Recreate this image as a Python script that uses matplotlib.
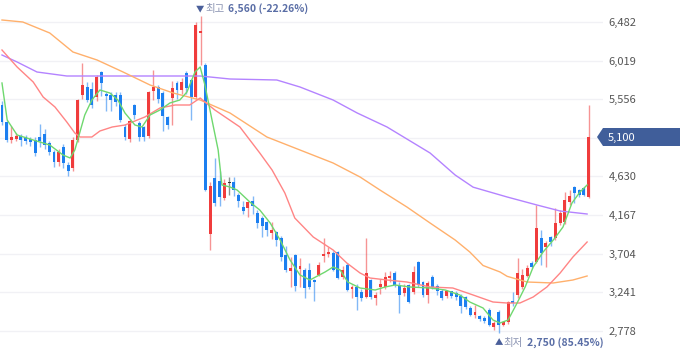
import matplotlib
matplotlib.use('Agg')
import matplotlib.pyplot as plt
from matplotlib.patches import Polygon
import numpy as np

plt.rcParams['font.family'] = ['Noto Sans CJK KR', 'DejaVu Sans']

# 일봉 시가/고가/저가/종가
opens = [5490, 5280, 5070, 5080, 5120, 5100, 5080, 5070, 5100, 5140,
         5030, 4920, 4800, 4980, 4770, 4730, 5070, 5610, 5700, 5680,
         5580, 5880, 5620, 5610, 5610, 5610, 5220, 5080, 5490, 5270,
         5220, 5110, 5650, 5700, 5630, 5340, 5570, 5750, 5670, 5870,
         5790, 5580, 6350, 5970, 3940, 4610, 4580, 4370, 4550, 4560,
         4410, 4260, 4250, 4330, 4190, 4130, 4080, 3950, 3960, 3890,
         3690, 3500, 3690, 3520, 3510, 3510, 3390, 3450, 3670, 3700,
         3710, 3720, 3420, 3570, 3280, 3300, 3240, 3180, 3390, 3170,
         3300, 3300, 3410, 3470, 3330, 3230, 3330, 3240, 3600, 3360,
         3210, 3420, 3320, 3260, 3190, 3250, 3230, 3200, 3180, 3050,
         2970, 2950, 2930, 3030, 2820, 3000, 2850, 2880, 3130, 3210,
         3300, 3440, 3590, 3600, 3890, 3780, 3900, 3890, 4070, 4080,
         4320, 4500, 4470, 4490, 4380]
highs = [5540, 5300, 5230, 5150, 5140, 5130, 5100, 5100, 5260, 5200,
         5060, 4950, 4960, 5020, 4800, 5100, 5560, 5990, 5760, 5760,
         5850, 5900, 5640, 5640, 5640, 5640, 5260, 5320, 5500, 5300,
         5240, 5660, 5910, 5730, 5650, 5360, 5780, 5780, 5810, 5890,
         5800, 6480, 6560, 5990, 4560, 4850, 4700, 4600, 4620, 4620,
         4430, 4330, 4340, 4390, 4230, 4160, 4100, 4080, 3980, 3910,
         3800, 3660, 3700, 3650, 3530, 3590, 3400, 3600, 3890, 3780,
         3730, 3740, 3560, 3590, 3330, 3340, 3280, 3890, 3400, 3240,
         3400, 3480, 3500, 3500, 3360, 3340, 3340, 3560, 3620, 3380,
         3380, 3450, 3340, 3280, 3270, 3260, 3250, 3220, 3200, 3070,
         3090, 2970, 2950, 3050, 2890, 3030, 2900, 3140, 3240, 3650,
         3520, 3570, 3620, 4290, 3990, 3850, 3920, 4250, 4230, 4440,
         4470, 4510, 4480, 4500, 5490]
lows = [5250, 5040, 5030, 5050, 5000, 5020, 5000, 4870, 4980, 4960,
        4890, 4740, 4760, 4730, 4630, 4700, 5040, 5560, 5520, 5450,
        5540, 5600, 5420, 5420, 5480, 5280, 5070, 5040, 5320, 5060,
        5060, 5090, 5550, 5510, 5180, 5200, 5250, 5560, 5620, 5620,
        5310, 5560, 5970, 4450, 3750, 4280, 4280, 4350, 4410, 4390,
        4260, 4180, 4140, 4180, 4010, 3900, 3920, 3880, 3800, 3610,
        3480, 3300, 3260, 3300, 3170, 3280, 3140, 3430, 3600, 3660,
        3490, 3400, 3400, 3250, 3170, 3030, 3130, 3170, 3160, 3090,
        3220, 3280, 3360, 3300, 2990, 3200, 3110, 3220, 3300, 3180,
        3110, 3280, 3210, 3150, 3170, 3170, 3150, 2990, 3040, 2950,
        2930, 2900, 2870, 2830, 2790, 2750, 2830, 2860, 3080, 3170,
        3280, 3420, 3530, 3590, 3570, 3540, 3800, 3870, 4050, 4060,
        4290, 4310, 4380, 4390, 4370]
closes = [5280, 5070, 5100, 5110, 5070, 5060, 5040, 4910, 5050, 5010,
          4920, 4800, 4920, 4790, 4690, 5070, 5550, 5730, 5550, 5490,
          5820, 5750, 5590, 5550, 5520, 5310, 5100, 5290, 5370, 5100,
          5100, 5640, 5700, 5560, 5350, 5250, 5690, 5670, 5760, 5690,
          5580, 6440, 6380, 4470, 4520, 4310, 4380, 4550, 4550, 4470,
          4330, 4220, 4320, 4270, 4070, 4040, 3990, 3990, 3870, 3660,
          3510, 3530, 3310, 3560, 3290, 3300, 3360, 3570, 3700, 3720,
          3510, 3410, 3510, 3270, 3300, 3180, 3170, 3470, 3180, 3210,
          3340, 3420, 3440, 3330, 3210, 3290, 3120, 3480, 3330, 3210,
          3350, 3300, 3250, 3170, 3250, 3190, 3180, 3080, 3060, 2970,
          3000, 2920, 2890, 2850, 2870, 2850, 2880, 3120, 3110, 3470,
          3450, 3530, 3540, 4010, 3710, 3830, 3840, 4070, 4190, 4350,
          4400, 4430, 4410, 4410, 5100]

# 이동평균선
ma5_idx = [0, 1.1, 3.2, 6.6, 10.1, 12.9, 14.4, 15.4, 17.5, 19.0, 20.7, 22.8, 24.5, 26.0,
           28.1, 29.6, 31.3, 33.4, 35.5, 37.6, 39.1, 40.8, 41.9, 42.9, 44.4, 45.7, 46.5,
           48.2, 49.7, 52.4, 54.5, 56.7, 58.8, 60.9, 63.0, 65.1, 68.3, 70.0, 71.5, 73.1,
           75.7, 78.9, 81.0, 83.1, 86.3, 90.5, 93.7, 96.8, 98.9, 101.7, 103.8, 105.3,
           107.0, 108.9, 110.6, 112.3, 114.4, 116.9, 118.6, 120.5, 122.2, 123.7]
ma5_val = [5750, 5306, 5126, 5066, 5006, 4886, 4850, 4946, 5366, 5546, 5666, 5630, 5546, 5390,
           5246, 5222, 5366, 5426, 5510, 5546, 5642, 5882, 5942, 5726, 5306, 4946, 4526,
           4502, 4466, 4322, 4226, 4070, 3866, 3626, 3446, 3386, 3482, 3542, 3506, 3362,
           3290, 3266, 3302, 3326, 3302, 3290, 3266, 3206, 3122, 3050, 2906, 2870,
           2906, 3110, 3302, 3542, 3722, 3890, 4022, 4310, 4442, 4526]
ma20_idx = [0, 3.2, 6.6, 8.7, 11.2, 13.7, 15.4, 16.5, 19.0, 20.7, 23.3, 26.0, 30.2, 33.4,
            36.6, 39.7, 41.9, 42.9, 45.0, 50.3, 54.5, 57.1, 59.8, 61.9, 65.8, 70.0, 72.9,
            75.7, 77.8, 81.4, 85.6, 90.5, 95.3, 99.6, 103.8, 106.8, 109.5, 112.3, 115.2,
            118.0, 120.7, 123.7]
ma20_val = [6146, 5942, 5762, 5582, 5462, 5282, 5150, 5102, 5102, 5174, 5222, 5246, 5342, 5450,
            5486, 5486, 5570, 5522, 5426, 5222, 4910, 4706, 4430, 4130, 3902, 3746, 3590,
            3470, 3410, 3386, 3362, 3302, 3290, 3206, 3122, 3110, 3110, 3182, 3302,
            3470, 3662, 3842]
ma60_idx = [0, 4.4, 10.1, 15.0, 20.1, 25.6, 31.3, 36.2, 41.9, 48.2, 56.0, 63.0, 70.0, 75.7,
            79.9, 85.6, 90.5, 95.8, 98.9, 101.7, 105.3, 106.8, 111.0, 116.5, 120.7, 123.7]
ma60_val = [6506, 6482, 6350, 6122, 6026, 5882, 5726, 5630, 5546, 5390, 5102, 4946, 4790, 4622,
            4466, 4262, 4070, 3866, 3722, 3560, 3482, 3430, 3362, 3350, 3386, 3434]
ma120_idx = [0, 3.2, 7.4, 13.7, 24.3, 34.9, 41.9, 48.2, 58.1, 63.0, 70.0, 75.1, 81.4, 90.5,
             95.8, 99.6, 106.8, 113.1, 118.0, 123.7]
ma120_val = [6086, 6002, 5882, 5834, 5834, 5834, 5834, 5798, 5786, 5702, 5546, 5390, 5222, 4910,
             4646, 4500, 4382, 4286, 4214, 4178]

tick_vals = [6482, 6019, 5556, 5093, 4630, 4167, 3704, 3241, 2778]
tick_labels = ['6,482', '6,019', '5,556', '', '4,630', '4,167', '3,704', '3,241', '2,778']

W, H = 680, 358
fig = plt.figure(figsize=(W / 100, H / 100), dpi=100)
ax = fig.add_axes([0, 0, 603 / W, 1])
ax.set_xlim(-0.42, 127.06)
ax.set_ylim(2450, 6746)
for s in ax.spines.values():
    s.set_visible(False)

ax.yaxis.tick_right()
ax.set_yticks(tick_vals)
ax.set_yticklabels(tick_labels, color='#555555', fontsize=8)
ax.tick_params(axis='y', length=0, pad=4)
ax.set_xticks([])
ax.grid(axis='y', color='#f1f1f5', lw=1)
ax.set_axisbelow(True)

red, blue, black = '#f03c3c', '#1c7ff0', '#333333'
x = np.arange(len(opens))
for i in x:
    o, h, l, c = opens[i], highs[i], lows[i], closes[i]
    col = red if c > o else (blue if c < o else black)
    ax.vlines(i, l, h, color=col, lw=1, alpha=0.55, zorder=2)
    ax.bar(i, max(abs(c - o), 15), bottom=min(o, c), width=0.62, color=col, lw=0, zorder=3)

ax.plot(ma120_idx, ma120_val, color='#b483ff', lw=1, zorder=4)
ax.plot(ma60_idx, ma60_val, color='#ffb06c', lw=1, zorder=4)
ax.plot(ma20_idx, ma20_val, color='#ff8585', lw=1, zorder=4)
ax.plot(ma5_idx, ma5_val, color='#6fd86f', lw=1, zorder=4)

def px(xp, yp):
    return xp / W, 1 - yp / H

# 최고 / 최저 표시
fig.text(*px(196, 9), '▼', fontsize=6, color='#4a5f9a', va='center', ha='left')
fig.text(*px(205, 9), '최고', fontsize=7.5, color='#8a93b2', va='center', ha='left')
fig.text(*px(228, 9), '6,560 (-22.26%)', fontsize=7.5, color='#5a6ea6', fontweight='bold',
         va='center', ha='left')
fig.text(*px(495, 343), '▲', fontsize=6, color='#4a5f9a', va='center', ha='left')
fig.text(*px(503, 343), '최저', fontsize=7.5, color='#8a93b2', va='center', ha='left')
fig.text(*px(527, 343), '2,750 (85.45%)', fontsize=7.5, color='#5a6ea6', fontweight='bold',
         va='center', ha='left')

# 현재가 배지
pts = [px(597, 137), px(603, 128), px(680, 128), px(680, 146), px(603, 146)]
fig.patches.append(Polygon(pts, closed=True, transform=fig.transFigure,
                           facecolor='#405e9a', edgecolor='none', zorder=5))
fig.text(*px(608, 137.5), '5,100', fontsize=8, color='white', va='center', ha='left', zorder=6)

fig.savefig('out.png', dpi=100)
